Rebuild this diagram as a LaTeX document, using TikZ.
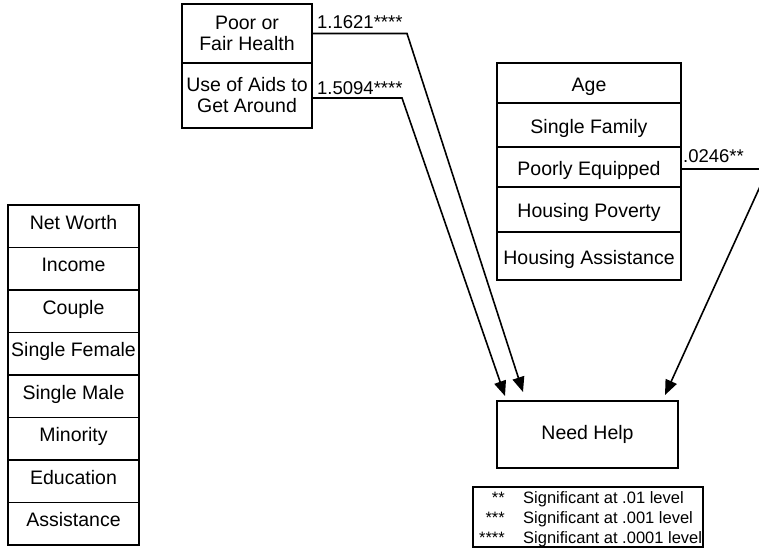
\documentclass[tikz,border=0pt]{standalone}
\usepackage{fontspec}
\setmainfont{Liberation Sans}
\usetikzlibrary{arrows.meta}
\begin{document}
\begin{tikzpicture}[x=1pt,y=-1pt,
  cell/.style={draw, line width=1.8pt, inner sep=0pt, outer sep=0pt, anchor=north west,
    font=\fontsize{19.5}{21}\selectfont, text height=14pt, text depth=4pt},
  rcell/.style={cell, text height=17pt, text depth=1pt},
  lcell/.style={cell, text height=12pt, text depth=6pt},
  cell2/.style={draw, line width=1.8pt, inner sep=0pt, outer sep=0pt, anchor=north west,
    font=\fontsize{19.5}{21}\selectfont, align=center},
  coef/.style={font=\fontsize{18.5}{20}\selectfont, anchor=base west, inner sep=0pt},
  conn/.style={line width=1.6pt, -{Triangle[length=15pt,width=12pt]}},
  legtext/.style={font=\fontsize{16.5}{18}\selectfont, inner sep=0pt}]
\useasboundingbox (0,0) rectangle (759,550);
\clip (0,0) rectangle (759,550);
\fill[white] (0,0) rectangle (759,550);

% top-left boxes
\node[cell2, minimum width=130pt, minimum height=59pt] (pf) at (182,4) {Poor or\\Fair Health};
\node[cell2, minimum width=130pt, minimum height=65pt] (ua) at (182,63) {Use of Aids to\\Get Around};

% right stack
\node[rcell, minimum width=184pt, minimum height=40pt] (age) at (497,63) {Age};
\node[rcell, minimum width=184pt, minimum height=44pt] (sf) at (497,103) {Single Family};
\node[rcell, minimum width=184pt, minimum height=40pt] (pe) at (497,147) {Poorly Equipped};
\node[rcell, minimum width=184pt, minimum height=45pt] (hp) at (497,187) {Housing Poverty};
\node[rcell, minimum width=184pt, minimum height=48pt] (ha) at (497,232) {Housing Assistance};

% left stack
\node[lcell, minimum width=131pt, minimum height=42.5pt] (nw) at (8,205) {Net Worth};
\node[lcell, minimum width=131pt, minimum height=42.5pt] (inc) at (8,247.5) {Income};
\node[lcell, minimum width=131pt, minimum height=42.5pt] (cp) at (8,290) {Couple};
\node[lcell, minimum width=131pt, minimum height=42.5pt] (sfe) at (8,332.5) {Single Female};
\node[lcell, minimum width=131pt, minimum height=42.5pt] (sm) at (8,375) {Single Male};
\node[lcell, minimum width=131pt, minimum height=42.5pt] (mi) at (8,417.5) {Minority};
\node[lcell, minimum width=131pt, minimum height=42.5pt] (ed) at (8,460) {Education};
\node[lcell, minimum width=131pt, minimum height=42.5pt] (as) at (8,502.5) {Assistance};

% outcome
\node[cell, minimum width=181pt, minimum height=67pt] (nh) at (497,401) {Need Help};

% coefficients
\node[coef] (c1) at (317,28) {1.1621****};
\node[coef] (c2) at (317,94) {1.5094****};
\node[coef] (c3) at (683,162) {.0246**};

% connectors
\coordinate (t1) at (523,392);
\coordinate (t2) at (505,396);
\coordinate (t3) at (665,395);
\draw[conn] (pf.east) -- ++(95,0) -- (t1);
\draw[conn] ([yshift=-2.5pt]ua.east) -- ++(90,0) -- (t2);
\draw[conn] ([yshift=-2pt]pe.east) -- ++(87,0) -- (t3);

% legend
\node[draw, line width=1.8pt, inner sep=0pt, outer sep=0pt, anchor=north west,
  minimum width=230pt, minimum height=60pt] (leg) at (473,487) {};
\node[legtext, anchor=base east] (s1) at (505,503) {**};
\node[legtext, anchor=base east] (s2) at (505,523) {***};
\node[legtext, anchor=base east] (s3) at (505,543) {****};
\node[legtext, anchor=base west] (d1) at (523,503) {Significant at .01 level};
\node[legtext, anchor=base west] (d2) at (523,523) {Significant at .001 level};
\node[legtext, anchor=base west] (d3) at (523,543) {Significant at .0001 level};
\draw[line width=1.8pt] (leg.north east) -- (leg.south east);
\fill[white] ([xshift=0.9pt]leg.north east) rectangle ([xshift=0.9pt]leg.south east -| 759,0);
\end{tikzpicture}
\end{document}
